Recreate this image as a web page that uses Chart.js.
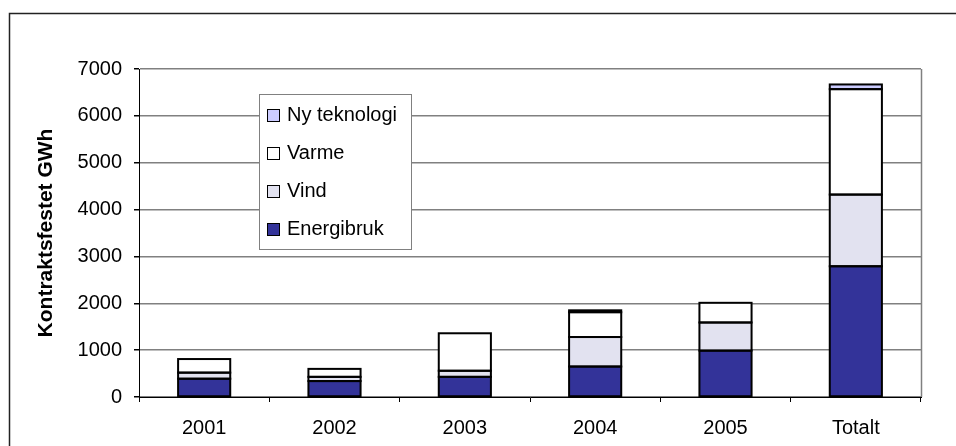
<!DOCTYPE html>
<html>
<head>
<meta charset="utf-8">
<script src="https://cdn.jsdelivr.net/npm/chart.js@4/dist/chart.umd.min.js"></script>
<style>
  html, body { margin: 0; padding: 0; background: #fff; }
  canvas { display: block; }
</style>
</head>
<body>
<canvas id="chart" width="956" height="446"></canvas>
<script>
// ── Data ──
const kategorier   = ['2001', '2002', '2003', '2004', '2005', 'Totalt'];
const energibruk   = [390, 340, 430, 650, 990, 2790];
const vind         = [130, 90, 130, 630, 600, 1530];
const varme        = [290, 170, 800, 530, 420, 2250];
const nyTeknologi  = [0, 0, 0, 40, 0, 100];
const yTicks       = [0, 1000, 2000, 3000, 4000, 5000, 6000, 7000];

const FONT = "'Liberation Sans', Arial, sans-serif";

// ── Ramme + plottkant ──
const rammePlugin = {
  id: 'ramme',
  beforeDraw(chart) {
    const ctx = chart.ctx;
    ctx.save();
    ctx.fillStyle = '#fff';
    ctx.fillRect(0, 0, chart.width, chart.height);
    ctx.strokeStyle = '#222';
    ctx.lineWidth = 1.5;
    ctx.beginPath();
    ctx.moveTo(9.5, chart.height + 2);
    ctx.lineTo(9.5, 13.5);
    ctx.lineTo(chart.width + 2, 13.5);
    ctx.stroke();
    ctx.restore();
  },
  afterDraw(chart) {
    const { ctx, chartArea: a } = chart;
    ctx.save();
    ctx.strokeStyle = '#808080';
    ctx.lineWidth = 1.5;
    ctx.beginPath();
    ctx.moveTo(a.right + 0.5, a.top);
    ctx.lineTo(a.right + 0.5, a.bottom);
    ctx.stroke();
    ctx.restore();
  }
};

// ── Svarte kanter rundt hvert segment (jevn tykkelse i skjøtene) ──
const kantPlugin = {
  id: 'kanter',
  afterDatasetsDraw(chart) {
    const ctx = chart.ctx;
    ctx.save();
    ctx.strokeStyle = '#000';
    ctx.lineWidth = 2;
    chart.data.datasets.forEach((ds, i) => {
      chart.getDatasetMeta(i).data.forEach((bar, j) => {
        if (!ds.data[j]) return;
        const { x, y, base, width } = bar.getProps(['x', 'y', 'base', 'width'], true);
        ctx.strokeRect(x - width / 2, y, width, base - y);
      });
    });
    ctx.restore();
  }
};

// ── Tegnforklaring inne i plottet ──
const legendPlugin = {
  id: 'boksLegend',
  afterDraw(chart) {
    const ctx = chart.ctx;
    const x = 259, y = 94, w = 152, h = 155;
    ctx.save();
    ctx.fillStyle = '#fff';
    ctx.fillRect(x, y, w, h);
    ctx.strokeStyle = '#808080';
    ctx.lineWidth = 1;
    ctx.strokeRect(x + 0.5, y + 0.5, w, h);

    const sett = chart.data.datasets.slice().reverse();
    ctx.font = `20px ${FONT}`;
    ctx.textBaseline = 'middle';
    ctx.textAlign = 'left';
    sett.forEach((ds, i) => {
      const cy = 115 + i * 38;
      ctx.fillStyle = ds.backgroundColor;
      ctx.fillRect(267, cy - 6, 13, 13);
      ctx.strokeStyle = '#000';
      ctx.lineWidth = 1;
      ctx.strokeRect(267.5, cy - 5.5, 12, 12);
      ctx.fillStyle = '#000';
      ctx.fillText(ds.label, 287, cy);
    });
    ctx.restore();
  }
};

const lagSett = (label, data, farge) => ({
  label, data,
  backgroundColor: farge,
  borderWidth: 0,
  barPercentage: 0.4,
  categoryPercentage: 1.0,
});

new Chart(document.getElementById('chart'), {
  type: 'bar',
  data: {
    labels: kategorier,
    datasets: [
      lagSett('Energibruk', energibruk, '#333399'),
      lagSett('Vind', vind, '#E2E2F0'),
      lagSett('Varme', varme, '#FFFFFF'),
      lagSett('Ny teknologi', nyTeknologi, '#CCCCFF'),
    ],
  },
  options: {
    responsive: false,
    animation: false,
    events: [],
    layout: { padding: { left: 30, right: 35, top: 69, bottom: 0 } },
    plugins: { legend: { display: false }, tooltip: { enabled: false } },
    scales: {
      x: {
        stacked: true,
        afterFit: s => { s.height = 49; },
        grid: { offset: true, drawOnChartArea: false, tickLength: 5, tickColor: '#000' },
        border: { color: '#000', width: 1 },
        ticks: { color: '#000', font: { family: FONT, size: 20 }, padding: 14 },
      },
      y: {
        stacked: true,
        min: 0, max: 7000,
        afterFit: s => { s.width = 109; },
        afterBuildTicks: s => { s.ticks = yTicks.map(v => ({ value: v })); },
        grid: { color: '#808080', lineWidth: 1.5, tickLength: 5, tickColor: '#000' },
        border: { color: '#000', width: 1 },
        ticks: {
          color: '#000',
          font: { family: FONT, size: 20 },
          padding: 12,
          callback: v => String(v),
        },
        title: {
          display: true,
          text: 'Kontraktsfestet GWh',
          color: '#000',
          font: { family: FONT, size: 21, weight: 'bold' },
          padding: { top: 4, bottom: 0 },
        },
      },
    },
  },
  plugins: [rammePlugin, kantPlugin, legendPlugin],
});
</script>
</body>
</html>
